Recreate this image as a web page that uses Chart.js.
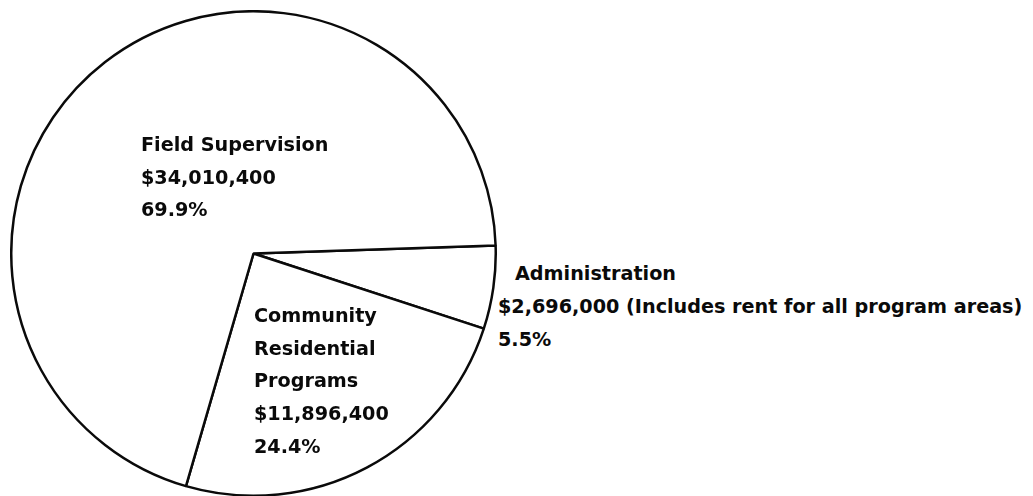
<!DOCTYPE html>
<html>
<head>
<meta charset="utf-8">
<script src="https://cdn.jsdelivr.net/npm/chart.js@4.4.1/dist/chart.umd.min.js"></script>
<style>
  html, body { margin:0; padding:0; background:#fff; width:1033px; height:496px; overflow:hidden; }
  #wrap { position:absolute; left:10px; top:10px; width:487px; height:487px; }
  .lbl { position:absolute; font-family:"DejaVu Sans", sans-serif; font-weight:bold; font-size:19.2px; color:#0a0a0a; white-space:nowrap; }
</style>
</head>
<body>
<div id="wrap"><canvas id="c"></canvas></div>
<div class="lbl" id="lblField" style="left:141px; top:129px; line-height:32.5px;"></div>
<div class="lbl" id="lblCommunity" style="left:254px; top:300px; line-height:32.7px;"></div>
<div class="lbl" id="lblAdmin" style="left:498px; top:257px; line-height:33px;"></div>
<script>
const categories = ["Administration", "Community Residential Programs", "Field Supervision"];
const amounts = [2696000, 11896400, 34010400];
const percentLabels = ["5.5%", "24.4%", "69.9%"];
const amountLabels = ["$2,696,000", "$11,896,400", "$34,010,400"];
const adminNote = "(Includes rent for all program areas)";

// Labels as real text
document.getElementById('lblField').innerHTML =
  'Field Supervision<br>' + amountLabels[2] + '<br>' + percentLabels[2];
document.getElementById('lblCommunity').innerHTML =
  'Community<br>Residential<br>Programs<br>' + amountLabels[1] + '<br>' + percentLabels[1];
document.getElementById('lblAdmin').innerHTML =
  '<span style="padding-left:17px">' + categories[0] + '</span><br>' + amountLabels[0] + ' ' + adminNote + '<br>' + percentLabels[0];

new Chart(document.getElementById('c'), {
  type: 'pie',
  data: {
    labels: categories,
    datasets: [{
      data: amounts,
      backgroundColor: '#ffffff',
      borderColor: '#0a0a0a',
      borderWidth: 2.5,
      borderAlign: 'center',
      hoverOffset: 0
    }]
  },
  options: {
    responsive: true,
    maintainAspectRatio: false,
    animation: false,
    rotation: 88.1,
    layout: { padding: 0 },
    plugins: {
      legend: { display: false },
      tooltip: { enabled: false }
    }
  }
});
</script>
</body>
</html>
